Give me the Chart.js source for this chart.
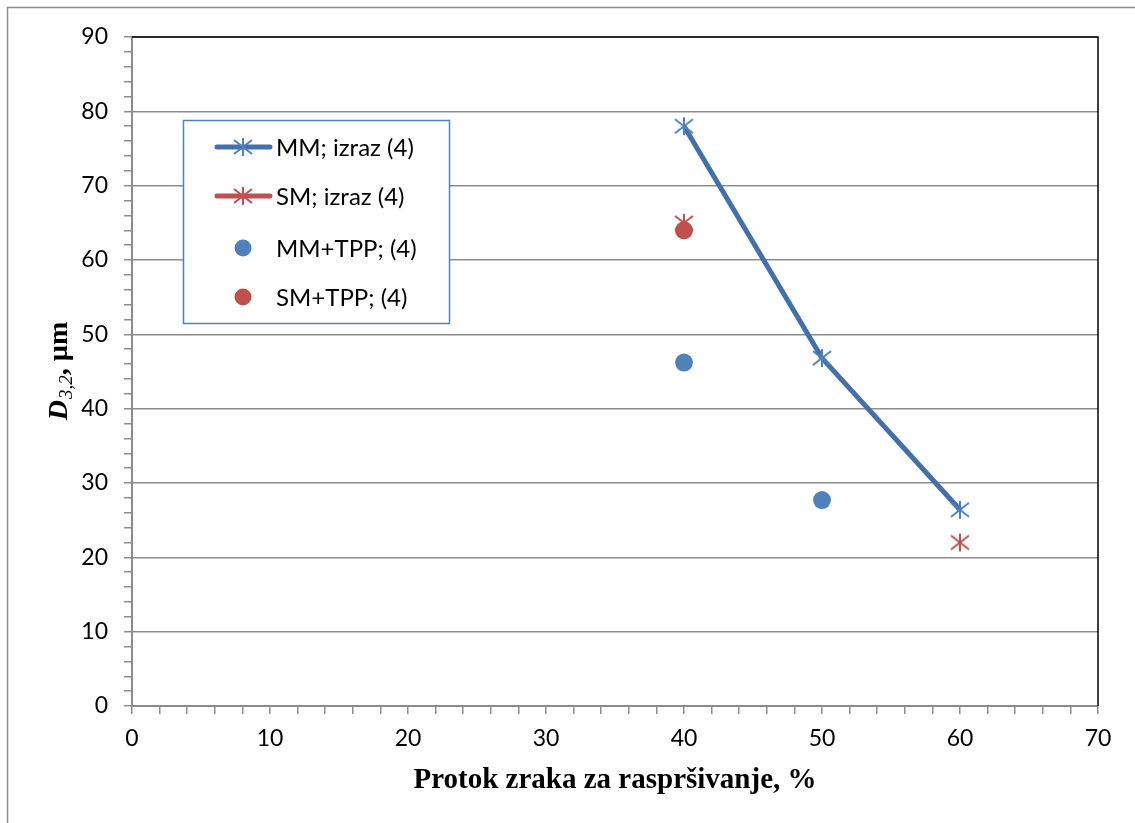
<!DOCTYPE html>
<html>
<head>
<meta charset="utf-8">
<script src="https://cdn.jsdelivr.net/npm/chart.js@4.4.1/dist/chart.umd.min.js"></script>
<style>
  html, body { margin: 0; padding: 0; background: #fff; }
  #wrap { position: absolute; left: 0; top: 0; width: 1135px; height: 823px; }
</style>
</head>
<body>
<div id="wrap"><canvas id="chart"></canvas></div>
<script>
// Data
const protok = [40, 50, 60];
const mmIzraz = [78, 46.8, 26.4];
const smIzraz = [65, null, 22];
const mmTpp = [46.2, 27.7, null];
const smTpp = [64, null, null];

const seriesLabels = ['MM; izraz (4)', 'SM; izraz (4)', 'MM+TPP; (4)', 'SM+TPP; (4)'];
const xTitle = 'Protok zraka za raspršivanje, %';

const BLUE_LINE = '#4170AB';
const BLUE = '#4F81BD';
const RED = '#C0504D';
const GRID = '#8C8C8C';

function toPoints(ys) {
    return protok.map((x, i) => ({ x: x, y: ys[i] }));
}

// asterisk marker (vertical bar + X), like the Excel one
function makeStar(color) {
    const c = document.createElement('canvas');
    c.width = 22;
    c.height = 22;
    const g = c.getContext('2d');
    g.strokeStyle = color;
    g.lineWidth = 2;
    g.beginPath();
    g.moveTo(11, 2); g.lineTo(11, 20);
    g.moveTo(2, 4); g.lineTo(20, 18);
    g.moveTo(2, 18); g.lineTo(20, 4);
    g.stroke();
    return c;
}
const blueStar = makeStar(BLUE);
const redStar = makeStar(RED);

// outer frame, plot border, y title and legend box
const decor = {
    id: 'decor',
    beforeDraw(chart) {
        const ctx = chart.ctx;
        ctx.save();
        ctx.strokeStyle = GRID;
        ctx.lineWidth = 1.5;
        ctx.beginPath();
        ctx.moveTo(7.5, 1000);
        ctx.lineTo(7.5, 7.5);
        ctx.lineTo(1200, 7.5);
        ctx.stroke();
        ctx.restore();
    },
    beforeDatasetsDraw(chart) {
        const ctx = chart.ctx;
        const a = chart.chartArea;
        ctx.save();
        ctx.strokeStyle = '#000';
        ctx.lineWidth = 1.5;
        ctx.beginPath();
        ctx.moveTo(a.left, a.top);
        ctx.lineTo(a.right, a.top);
        ctx.lineTo(a.right, a.bottom);
        ctx.stroke();
        ctx.restore();

        // y axis title: D (italic) with subscript 3,2 then ", µm"
        ctx.save();
        ctx.translate(50, (a.top + a.bottom) / 2);
        ctx.rotate(-Math.PI / 2);
        ctx.fillStyle = '#000';
        ctx.textBaseline = 'alphabetic';
        const f1 = 'italic bold 28px "Liberation Serif"';
        const f2 = 'italic 19px "Liberation Serif"';
        const f3 = 'bold 28px "Liberation Serif"';
        ctx.font = f1; const w1 = ctx.measureText('D').width;
        ctx.font = f2; const w2 = ctx.measureText('3,2').width;
        ctx.font = f3; const w3 = ctx.measureText(', µm').width;
        let x = -(w1 + w2 + w3) / 2;
        const base = 17;
        ctx.font = f1; ctx.fillText('D', x, base); x += w1 + 1;
        ctx.font = f2; ctx.fillText('3,2', x, base + 5); x += w2;
        ctx.font = f3; ctx.fillText(', µm', x, base);
        ctx.restore();
    },
    afterDraw(chart) {
        const ctx = chart.ctx;
        const box = { x: 183.5, y: 120.5, w: 266, h: 203 };
        ctx.save();
        ctx.fillStyle = '#fff';
        ctx.fillRect(box.x, box.y, box.w, box.h);
        ctx.strokeStyle = BLUE;
        ctx.lineWidth = 1.5;
        ctx.strokeRect(box.x, box.y, box.w, box.h);

        const rows = [147, 196, 248, 297];
        ctx.font = '24px Lato';
        ctx.textBaseline = 'middle';
        chart.data.datasets.forEach((ds, i) => {
            const y = rows[i];
            if (ds.showLine) {
                ctx.strokeStyle = ds.borderColor;
                ctx.lineWidth = ds.borderWidth;
                ctx.lineCap = 'round';
                ctx.beginPath();
                ctx.moveTo(217, y);
                ctx.lineTo(270, y);
                ctx.stroke();
                const img = ds.pointStyle;
                ctx.drawImage(img, 243 - img.width / 2, y - img.height / 2);
            } else {
                ctx.fillStyle = ds.backgroundColor;
                ctx.beginPath();
                ctx.arc(243, y, 8.5, 0, Math.PI * 2);
                ctx.fill();
            }
            ctx.fillStyle = '#000';
            ctx.fillText(ds.label, 276, y + 1);
        });
        ctx.restore();
    }
};

const tickFont = { family: 'Lato', size: 23 };

new Chart(document.getElementById('chart'), {
    type: 'scatter',
    data: {
        datasets: [
            {
                label: seriesLabels[0],
                data: toPoints(mmIzraz),
                showLine: true,
                borderColor: BLUE_LINE,
                borderWidth: 5,
                pointStyle: blueStar,
                order: 1
            },
            {
                label: seriesLabels[1],
                data: toPoints(smIzraz),
                showLine: true,
                spanGaps: false,
                borderColor: RED,
                borderWidth: 5,
                pointStyle: redStar,
                order: 3
            },
            {
                label: seriesLabels[2],
                data: toPoints(mmTpp),
                showLine: false,
                backgroundColor: BLUE,
                borderColor: BLUE,
                pointRadius: 9,
                pointBorderWidth: 0,
                order: 2
            },
            {
                label: seriesLabels[3],
                data: toPoints(smTpp),
                showLine: false,
                backgroundColor: RED,
                borderColor: RED,
                pointRadius: 9,
                pointBorderWidth: 0,
                order: 0
            }
        ]
    },
    options: {
        responsive: true,
        maintainAspectRatio: false,
        animation: false,
        layout: { padding: { left: 0, top: 37, right: 37, bottom: 0 } },
        plugins: {
            legend: { display: false },
            tooltip: { enabled: false }
        },
        scales: {
            x: {
                type: 'linear',
                min: 0,
                max: 70,
                afterFit: s => { s.height = 117; },
                ticks: {
                    stepSize: 2,
                    maxTicksLimit: 100,
                    autoSkip: false,
                    maxRotation: 0,
                    padding: 11,
                    color: '#000',
                    font: tickFont,
                    callback: v => (v % 10 === 0 ? v : '')
                },
                grid: {
                    drawOnChartArea: false,
                    tickLength: 8,
                    tickColor: GRID,
                    lineWidth: 1.5
                },
                border: { color: GRID, width: 2 },
                title: {
                    display: true,
                    text: xTitle,
                    color: '#000',
                    font: { family: 'Liberation Serif', size: 29, weight: 'bold' },
                    padding: { top: 0, bottom: 25 }
                }
            },
            y: {
                type: 'linear',
                min: 0,
                max: 90,
                afterFit: s => { s.width = 132; },
                ticks: {
                    stepSize: 2,
                    maxTicksLimit: 100,
                    autoSkip: false,
                    padding: 16,
                    color: '#000',
                    font: tickFont,
                    callback: v => (v % 10 === 0 ? v : '')
                },
                grid: {
                    color: c => (c.tick && c.tick.value % 10 === 0 ? GRID : 'rgba(0,0,0,0)'),
                    tickColor: GRID,
                    tickLength: 8,
                    lineWidth: 1.5
                },
                border: { color: GRID, width: 2 }
            }
        }
    },
    plugins: [decor]
});
</script>
</body>
</html>
